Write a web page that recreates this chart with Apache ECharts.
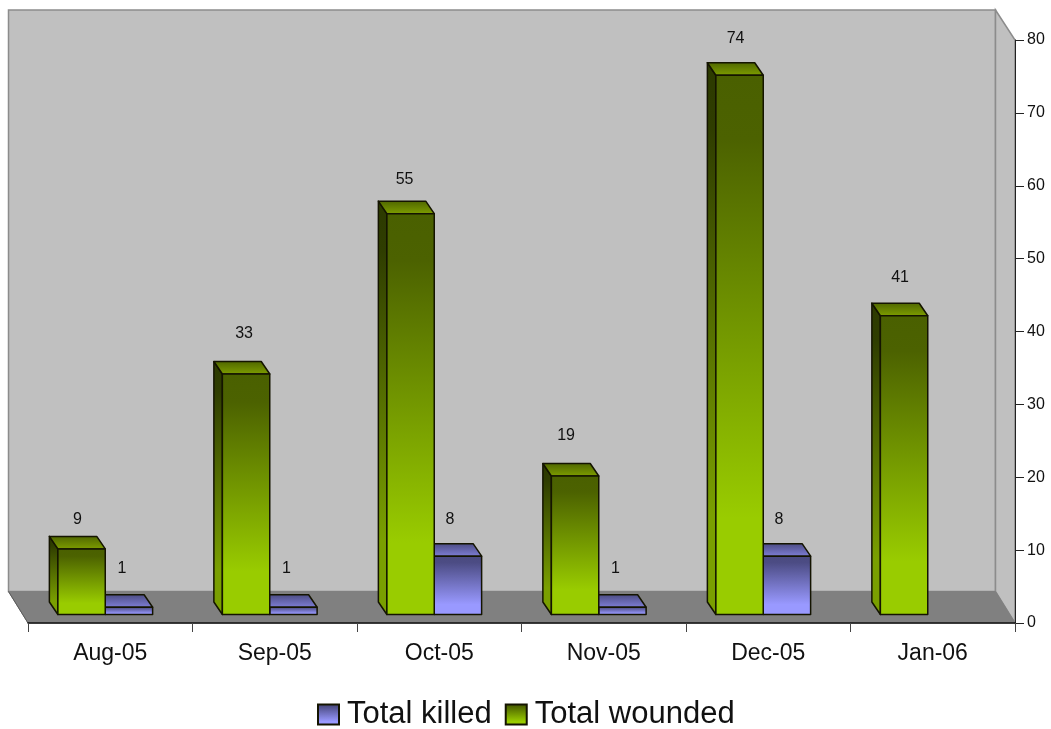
<!DOCTYPE html>
<html>
<head>
<meta charset="utf-8">
<style>html,body{margin:0;padding:0;background:#fff}#chart{width:1051px;height:729px}</style>
<script src="https://cdn.jsdelivr.net/npm/echarts@6/dist/echarts.min.js"></script>
</head>
<body>
<div id="chart"></div>
<script>
// Monthly casualty counts
const months = ['Aug-05', 'Sep-05', 'Oct-05', 'Nov-05', 'Dec-05', 'Jan-06'];
const totalKilled = [1, 1, 8, 1, 8, null];
const totalWounded = [9, 33, 55, 19, 74, 41];
const valueTicks = { min: 0, max: 80, interval: 10 };

// Value-label placement relative to each bar's front top edge: [dx, lift]
const woundedLabelShift = [[-4, 29], [-2, 40], [-6, 34], [-9, 40], [-4, 37], [-4, 38]];
const killedLabelShift = [[-7, 39], [-7, 39], [-8, 37], [-7, 39], [-8, 37], [0, 0]];

// Oblique projection of the 3-D look
const floorDepth = { dx: -19.5, dy: -31.5 };
const barInset = { dx: -5, dy: -8.5 };
const barDepth = { dx: -8.5, dy: -12.5 };
const font = '"Liberation Sans", Arial, sans-serif';
const edge = '#141400';

function vgrad(stops) {
  return {
    type: 'linear', x: 0, y: 0, x2: 0, y2: 1,
    colorStops: stops.map(s => ({ offset: s[0], color: s[1] }))
  };
}

const greenFront = vgrad([[0, '#4a6000'], [0.12, '#4c6200'], [0.82, '#99cc00'], [1, '#99cc00']]);
const greenSide = vgrad([[0, '#2c3a00'], [0.12, '#2f3d00'], [0.82, '#7a9f00'], [1, '#7a9f00']]);
const greenTop = vgrad([[0, '#4e6500'], [1, '#7f9f00']]);
const blueFront = vgrad([[0, '#4a4a80'], [0.12, '#4c4c84'], [0.82, '#9999ff'], [1, '#9999ff']]);
const blueTop = vgrad([[0, '#4a4a80'], [1, '#8080d8']]);

// Back wall, side wall and floor hung off the axis scales
function renderRoom(params, api) {
  const a = api.coord([0, valueTicks.min]);
  const size = api.size([1, 0])[0];
  const x0 = a[0] - size / 2;
  const x1 = x0 + size * months.length;
  const y0 = a[1];
  const yTop = api.coord([0, valueTicks.max])[1];
  const bx0 = x0 + floorDepth.dx, bx1 = x1 + floorDepth.dx, by0 = y0 + floorDepth.dy;
  const byTop = yTop - 30;
  const wall = { stroke: '#8c8c8c', lineWidth: 1.5 };
  return {
    type: 'group',
    children: [
      { type: 'polygon', shape: { points: [[bx0, byTop], [bx1, byTop], [bx1, by0], [bx0, by0]] }, style: Object.assign({ fill: '#c0c0c0' }, wall) },
      { type: 'polygon', shape: { points: [[bx1, byTop], [x1, yTop], [x1, y0], [bx1, by0]] }, style: Object.assign({ fill: '#c0c0c0' }, wall) },
      { type: 'polygon', shape: { points: [[bx0, by0], [bx1, by0], [x1, y0], [x0, y0]] }, style: { fill: '#808080', stroke: '#808080', lineWidth: 1 } },
      { type: 'line', shape: { x1: bx0, y1: by0, x2: x0, y2: y0 }, style: { stroke: '#5a5a5a', lineWidth: 1 } }
    ]
  };
}

// One cuboid per category: side face, top face, front face and value label
function makeBarRenderer(opts) {
  return function (params, api) {
    const value = api.value(1);
    if (value === null || value === undefined || isNaN(value)) return null;
    const idx = api.value(0);
    const band = api.size([1, 0])[0];
    const center = api.coord([idx, 0]);
    const width = band * 0.288;
    const base = center[1] + barInset.dy;
    const top = base + (api.coord([idx, value])[1] - center[1]);
    const left = center[0] + barInset.dx + opts.side * width;
    const right = left + width;
    const d = barDepth;
    const stroke = { stroke: edge, lineWidth: 1.5, lineJoin: 'round' };
    const shift = opts.labelShift[idx];
    const children = [];
    if (opts.sideFill) {
      children.push({
        type: 'polygon',
        shape: { points: [[left, top], [left + d.dx, top + d.dy], [left + d.dx, base + d.dy], [left, base]] },
        style: Object.assign({ fill: opts.sideFill }, stroke)
      });
    }
    children.push({
      type: 'polygon',
      shape: { points: [[left, top], [left + d.dx, top + d.dy], [right + d.dx, top + d.dy], [right, top]] },
      style: Object.assign({ fill: opts.topFill }, stroke)
    });
    children.push({
      type: 'rect',
      shape: { x: left, y: top, width: width, height: base - top },
      style: Object.assign({ fill: opts.frontFill }, stroke)
    });
    children.push({
      type: 'text',
      style: {
        text: String(value),
        x: left + width / 2 + shift[0],
        y: top - shift[1],
        fill: '#111',
        font: '16px ' + font,
        align: 'center',
        verticalAlign: 'middle'
      }
    });
    return { type: 'group', children: children };
  };
}

function toPairs(values) {
  return values.map((v, i) => [i, v]);
}

const chart = echarts.init(document.getElementById('chart'), null, { renderer: 'canvas' });
chart.setOption({
  animation: false,
  backgroundColor: '#ffffff',
  textStyle: { fontFamily: font },
  grid: { left: 28, right: 36, top: 40, bottom: 106, containLabel: false },
  legend: {
    data: [
      { name: 'Total killed', icon: 'rect' },
      { name: 'Total wounded', icon: 'rect' }
    ],
    left: 317,
    top: 699,
    itemWidth: 21,
    itemHeight: 20,
    itemGap: 13,
    padding: 0,
    textStyle: { fontSize: 31, color: '#111', fontFamily: font, padding: [9, 0, 0, 3] }
  },
  xAxis: {
    type: 'category',
    data: months,
    z: 5,
    axisLine: { lineStyle: { color: '#111', width: 1.5 } },
    axisTick: { show: true, alignWithLabel: false, length: 9, lineStyle: { color: '#444', width: 1 } },
    axisLabel: { fontSize: 23, color: '#111', margin: 19, fontFamily: font },
    splitLine: { show: false }
  },
  yAxis: {
    type: 'value',
    position: 'right',
    min: valueTicks.min,
    max: valueTicks.max,
    interval: valueTicks.interval,
    z: 5,
    axisLine: { show: true, lineStyle: { color: '#222', width: 1 } },
    axisTick: { show: true, length: 9, lineStyle: { color: '#222', width: 1 } },
    axisLabel: { fontSize: 16, color: '#111', margin: 12, fontFamily: font },
    splitLine: { show: false }
  },
  series: [
    {
      name: 'room',
      type: 'custom',
      silent: true,
      z: 1,
      data: [[0, 0]],
      encode: { x: 0, y: 1 },
      renderItem: renderRoom
    },
    {
      name: 'Total killed',
      type: 'custom',
      z: 2,
      itemStyle: { color: blueFront, borderColor: edge, borderWidth: 1.5 },
      data: toPairs(totalKilled),
      encode: { x: 0, y: 1 },
      renderItem: makeBarRenderer({ side: 0, topFill: blueTop, frontFill: blueFront, labelShift: killedLabelShift })
    },
    {
      name: 'Total wounded',
      type: 'custom',
      z: 3,
      itemStyle: { color: greenFront, borderColor: edge, borderWidth: 1.5 },
      data: toPairs(totalWounded),
      encode: { x: 0, y: 1 },
      renderItem: makeBarRenderer({ side: -1, topFill: greenTop, sideFill: greenSide, frontFill: greenFront, labelShift: woundedLabelShift })
    }
  ]
});
</script>
</body>
</html>
